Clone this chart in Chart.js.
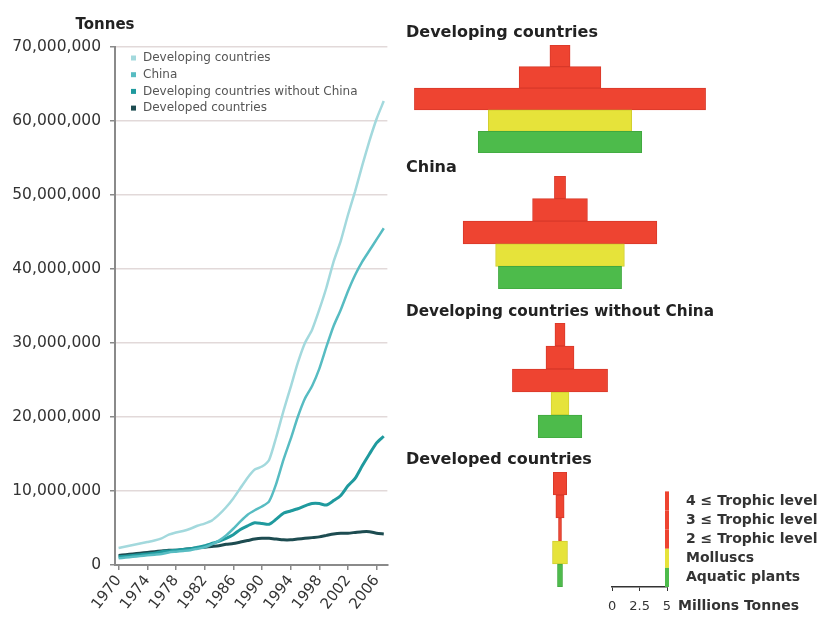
<!DOCTYPE html>
<html>
<head>
<meta charset="utf-8">
<script src="https://cdn.jsdelivr.net/npm/chart.js@4.4.1/dist/chart.umd.min.js"></script>
<style>
  html, body { margin: 0; padding: 0; background: #fff; overflow: hidden; }
  body { width: 823px; height: 617px; position: relative; }
  canvas { position: absolute; }
</style>
</head>
<body>
<canvas id="lineChart" width="400" height="617" style="left:0;top:0"></canvas>
<canvas id="pyrDeveloping" width="308" height="128" style="left:406px;top:25px"></canvas>
<canvas id="pyrChina" width="308" height="129" style="left:406px;top:160px"></canvas>
<canvas id="pyrNoChina" width="308" height="134" style="left:406px;top:304px"></canvas>
<canvas id="pyrDeveloped" width="308" height="135" style="left:406px;top:452px"></canvas>
<canvas id="levelKey" width="300" height="145" style="left:600px;top:472px"></canvas>
<script>
// Aquaculture production 1970-2007, millions of tonnes
const years = [1970, 1971, 1972, 1973, 1974, 1975, 1976, 1977, 1978, 1979,
  1980, 1981, 1982, 1983, 1984, 1985, 1986, 1987, 1988, 1989,
  1990, 1991, 1992, 1993, 1994, 1995, 1996, 1997, 1998, 1999,
  2000, 2001, 2002, 2003, 2004, 2005, 2006, 2007];

const developing = [2.3, 2.5, 2.7, 2.9, 3.1, 3.3, 3.6, 4.1, 4.4, 4.6,
  4.9, 5.3, 5.6, 6.0, 6.8, 7.8, 9.0, 10.4, 11.8, 12.9,
  13.3, 14.2, 17.3, 20.8, 24.0, 27.3, 30.0, 31.8, 34.5, 37.5,
  41.0, 43.8, 47.3, 50.5, 54.0, 57.3, 60.3, 62.7];

const china = [0.9, 1.0, 1.1, 1.2, 1.3, 1.4, 1.5, 1.7, 1.8, 1.9,
  2.0, 2.2, 2.4, 2.8, 3.3, 4.0, 4.9, 5.9, 6.8, 7.4,
  7.9, 8.6, 11.0, 14.2, 17.0, 20.0, 22.5, 24.2, 26.5, 29.5,
  32.3, 34.5, 37.0, 39.2, 41.0, 42.5, 44.0, 45.5];

const developingNoChina = [1.1, 1.2, 1.3, 1.4, 1.5, 1.6, 1.8, 1.9, 2.0, 2.1,
  2.2, 2.4, 2.6, 2.9, 3.2, 3.6, 4.1, 4.8, 5.3, 5.7,
  5.6, 5.5, 6.2, 7.0, 7.3, 7.6, 8.0, 8.3, 8.3, 8.1,
  8.7, 9.4, 10.7, 11.7, 13.4, 15.0, 16.5, 17.4];

const developed = [1.3, 1.4, 1.5, 1.6, 1.7, 1.8, 1.9, 2.0, 2.0, 2.1,
  2.2, 2.3, 2.4, 2.5, 2.6, 2.8, 2.9, 3.1, 3.3, 3.5,
  3.6, 3.6, 3.5, 3.4, 3.4, 3.5, 3.6, 3.7, 3.8, 4.0,
  4.2, 4.3, 4.3, 4.4, 4.5, 4.5, 4.3, 4.2];

// Production by trophic level, millions of tonnes
const levels = ['4 ≤ Trophic level < 5', '3 ≤ Trophic level < 4', '2 ≤ Trophic level < 3', 'Molluscs', 'Aquatic plants'];
const pyrDeveloping = [1.8, 7.3, 26.0, 12.8, 14.6];
const pyrChina = [1.0, 4.9, 17.3, 11.5, 11.0];
const pyrNoChina = [0.9, 2.5, 8.5, 1.6, 3.9];
const pyrDeveloped = [1.2, 0.74, 0.27, 1.34, 0.45];

const FONT = 'DejaVu Sans';
Chart.defaults.font.family = FONT;
Chart.defaults.color = '#333';

const levelColors = ['#ee4431', '#ee4431', '#ee4431', '#e6e33a', '#4dbb4b'];
const levelBorders = ['#d8392a', '#d8392a', '#d8392a', '#d2cf30', '#40a83f'];
const HALF_SPAN = 13.75; // millions either side of the pyramid centre

// small text drawn onto a chart (titles that chart.js has no slot for)
const extraText = {
  id: 'extraText',
  afterDraw(chart, args, opts) {
    const ctx = chart.ctx;
    ctx.save();
    (opts.items || []).forEach(it => {
      ctx.font = it.font;
      ctx.fillStyle = it.color;
      ctx.textAlign = it.align || 'left';
      ctx.textBaseline = 'middle';
      ctx.fillText(it.text, it.x, it.y);
    });
    ctx.restore();
  }
};

// vertical legend inside the plot area
const sideLegend = {
  id: 'sideLegend',
  afterDraw(chart, args, opts) {
    const ctx = chart.ctx;
    ctx.save();
    ctx.font = opts.font;
    ctx.textBaseline = 'middle';
    chart.data.datasets.forEach((ds, i) => {
      const y = opts.y + i * opts.rowHeight;
      ctx.fillStyle = ds.borderColor;
      ctx.fillRect(opts.x, y - 2.5, 5, 5);
      ctx.fillStyle = opts.color;
      ctx.fillText(ds.label, opts.x + 12, y);
    });
    ctx.restore();
  }
};

new Chart(document.getElementById('lineChart'), {
  type: 'line',
  data: {
    labels: years,
    datasets: [
      { label: 'Developing countries', data: developing, borderColor: '#a3d9dd', borderWidth: 2.5 },
      { label: 'China', data: china, borderColor: '#57bcc2', borderWidth: 2.5 },
      { label: 'Developing countries without China', data: developingNoChina, borderColor: '#1f9a9e', borderWidth: 3 },
      { label: 'Developed countries', data: developed, borderColor: '#1d4c51', borderWidth: 3 }
    ]
  },
  options: {
    responsive: false,
    animation: false,
    elements: { point: { radius: 0 }, line: { tension: 0.2 } },
    layout: { padding: { top: 47, right: 3, left: 0, bottom: 0 } },
    plugins: {
      legend: { display: false },
      tooltip: { enabled: false },
      sideLegend: { x: 131, y: 58, rowHeight: 16.7, font: '12px "DejaVu Sans"', color: '#555' },
      extraText: { items: [{ text: 'Tonnes', x: 105, y: 25, align: 'center', font: 'bold 15px "DejaVu Sans"', color: '#222' }] }
    },
    scales: {
      x: {
        offset: true,
        grid: {
          drawOnChartArea: false,
          tickLength: 5,
          lineWidth: 1.5,
          color: c => c.index % 4 === 0 ? '#8a8a8a' : 'rgba(0,0,0,0)',
          tickColor: c => c.index % 4 === 0 ? '#8a8a8a' : 'rgba(0,0,0,0)'
        },
        border: { color: '#8a8a8a', width: 2 },
        ticks: {
          autoSkip: false,
          minRotation: 52,
          maxRotation: 52,
          padding: 2,
          color: '#333',
          font: { family: FONT, size: 15 },
          callback: function (v, i) { return i % 4 === 0 ? String(years[i]) : ''; }
        },
        afterFit: s => { s.height = 52; }
      },
      y: {
        min: 0,
        max: 70,
        ticks: {
          stepSize: 10,
          padding: 9,
          color: '#333',
          font: { family: FONT, size: 15.5 },
          callback: v => (v * 1000000).toLocaleString('en-US')
        },
        grid: { color: '#e2d9d9', lineWidth: 1.5, tickLength: 5, tickColor: '#8a8a8a' },
        border: { color: '#8a8a8a', width: 2 },
        afterFit: s => { s.width = 115; }
      }
    }
  },
  plugins: [sideLegend, extraText]
});

function makePyramid(id, title, values, gap) {
  return new Chart(document.getElementById(id), {
    type: 'bar',
    data: {
      labels: levels,
      datasets: [{
        data: values.map(v => [-v / 2, v / 2]),
        backgroundColor: levelColors,
        borderColor: levelBorders,
        borderWidth: 1,
        borderSkipped: false,
        barPercentage: 1,
        categoryPercentage: 1
      }]
    },
    options: {
      indexAxis: 'y',
      responsive: false,
      animation: false,
      layout: { padding: 0 },
      plugins: {
        legend: { display: false },
        tooltip: { enabled: false },
        title: {
          display: true,
          text: title,
          align: 'start',
          color: '#222',
          font: { family: FONT, size: 16, weight: 'bold', lineHeight: 1 },
          padding: { top: 0, bottom: gap }
        }
      },
      scales: {
        x: { display: false, min: -HALF_SPAN, max: HALF_SPAN },
        y: { display: false }
      }
    }
  });
}

makePyramid('pyrDeveloping', 'Developing countries', pyrDeveloping, 4);
makePyramid('pyrChina', 'China', pyrChina, 0);
makePyramid('pyrNoChina', 'Developing countries without China', pyrNoChina, 3);
makePyramid('pyrDeveloped', 'Developed countries', pyrDeveloped, 4);

// colour key: a swatch per trophic level band, drawn on the scale's category rows
const keySwatches = {
  id: 'keySwatches',
  afterDraw(chart) {
    const ctx = chart.ctx;
    const y = chart.scales.y;
    const area = chart.chartArea;
    const band = (area.bottom - area.top) / levels.length;
    ctx.save();
    levels.forEach((l, i) => {
      const c = y.getPixelForValue(i);
      ctx.fillStyle = levelColors[i];
      ctx.fillRect(area.right - 2, c - band / 2, 4, band);
    });
    ctx.font = 'bold 14px "DejaVu Sans"';
    ctx.fillStyle = '#333';
    ctx.textBaseline = 'middle';
    ctx.fillText('Millions Tonnes', area.right + 11, area.bottom + 19);
    ctx.restore();
  }
};

new Chart(document.getElementById('levelKey'), {
  type: 'bar',
  data: { labels: levels, datasets: [] },
  options: {
    indexAxis: 'y',
    responsive: false,
    animation: false,
    layout: { padding: { left: 11, top: 0, right: 0, bottom: 0 } },
    plugins: { legend: { display: false }, tooltip: { enabled: false } },
    scales: {
      x: {
        min: 0,
        max: 5,
        ticks: { stepSize: 2.5, padding: 8, color: '#333', font: { family: FONT, size: 13 } },
        grid: { drawOnChartArea: false, tickLength: 4, color: '#333' },
        border: { color: '#333', width: 1.5 },
        afterFit: s => { s.height = 30; }
      },
      y: {
        position: 'right',
        grid: { display: false },
        border: { display: false },
        ticks: { autoSkip: false, padding: 11, color: '#333', font: { family: FONT, size: 14, weight: 'bold' } },
        afterFit: s => { s.width = 233; }
      }
    }
  },
  plugins: [keySwatches]
});
</script>
</body>
</html>
